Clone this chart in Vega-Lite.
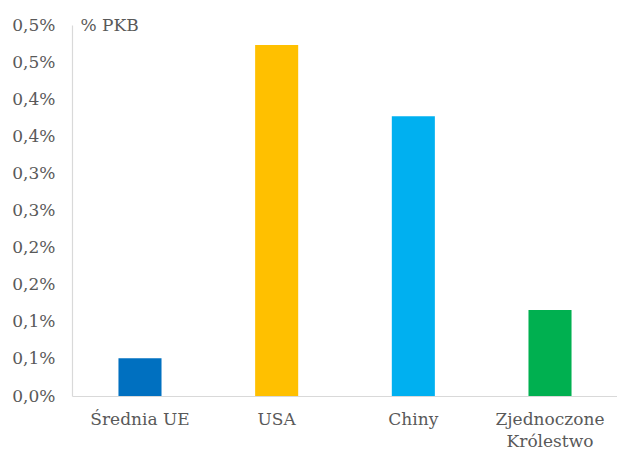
{
  "$schema": "https://vega.github.io/schema/vega-lite/v6.json",
  "width": 546,
  "height": 371,
  "autosize": {"type": "none"},
  "padding": {"left": 72, "top": 25, "right": 0, "bottom": 57},
  "background": "white",
  "config": {"view": {"stroke": null}, "font": "DejaVu Serif"},
  "data": {
    "values": [
      {"kraj": "Średnia UE", "wartosc": 0.051, "kolor": "#0070C0"},
      {"kraj": "USA", "wartosc": 0.473, "kolor": "#FFC000"},
      {"kraj": "Chiny", "wartosc": 0.377, "kolor": "#00B0F0"},
      {"kraj": "Zjednoczone Królestwo", "wartosc": 0.116, "kolor": "#00B050"}
    ]
  },
  "mark": {"type": "bar"},
  "encoding": {
    "x": {
      "field": "kraj",
      "type": "nominal",
      "sort": null,
      "scale": {"paddingInner": 0.685, "paddingOuter": 0.34},
      "axis": {
        "title": null,
        "labelAngle": 0,
        "labelFont": "DejaVu Serif",
        "labelFontSize": 17,
        "labelColor": "#595959",
        "labelPadding": 15,
        "labelLineHeight": 22,
        "labelBaseline": "top",
        "ticks": false,
        "domainColor": "#D9D9D9",
        "domainWidth": 1.2,
        "grid": false,
        "labelExpr": "datum.label == 'Zjednoczone Królestwo' ? ['Zjednoczone', 'Królestwo'] : datum.label"
      }
    },
    "y": {
      "field": "wartosc",
      "type": "quantitative",
      "scale": {"domain": [0, 0.5], "nice": false},
      "axis": {
        "values": [0, 0.05, 0.1, 0.15, 0.2, 0.25, 0.3, 0.35, 0.4, 0.45, 0.5],
        "labelExpr": "replace(format(round(datum.value * 10 + 0.001) / 10, '.1f'), '.', ',') + '%'",
        "title": "% PKB",
        "titleAngle": 0,
        "titleAlign": "left",
        "titleBaseline": "middle",
        "titleX": 8,
        "titleY": 0,
        "titleFont": "DejaVu Serif",
        "titleFontSize": 17,
        "titleFontWeight": "normal",
        "titleColor": "#595959",
        "labelFont": "DejaVu Serif",
        "labelFontSize": 17,
        "labelColor": "#595959",
        "labelPadding": 17,
        "ticks": false,
        "grid": false,
        "domainColor": "#D9D9D9",
        "domainWidth": 1.2
      }
    },
    "color": {"field": "kolor", "type": "nominal", "scale": null, "legend": null}
  }
}
